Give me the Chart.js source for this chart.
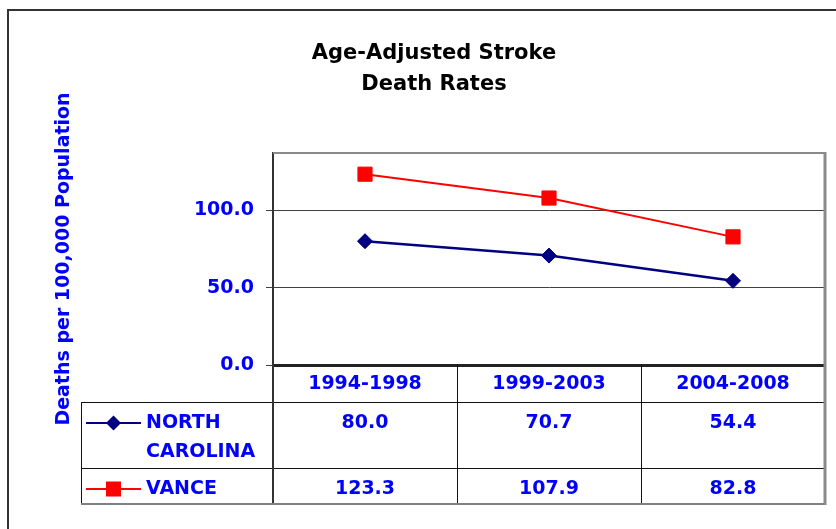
<!DOCTYPE html>
<html>
<head>
<meta charset="utf-8">
<script src="https://cdn.jsdelivr.net/npm/chart.js@4/dist/chart.umd.min.js"></script>
<style>
html,body{margin:0;padding:0;background:#fff;}
#wrap{width:836px;height:529px;position:relative;}
</style>
</head>
<body>
<div id="wrap"><canvas id="c" width="836" height="529"></canvas></div>
<script>
// ---- data ----
const categories = ['1994-1998', '1999-2003', '2004-2008'];
const seriesNames = ['NORTH CAROLINA', 'VANCE'];
const northCarolina = [80.0, 70.7, 54.4];
const vance = [123.3, 107.9, 82.8];
const yTickStep = 50;
const yMax = 137;
const titleLines = ['Age-Adjusted Stroke', 'Death Rates'];
const yTitle = 'Deaths per 100,000 Population';

const FONT = 'DejaVu Sans';
const BLUE = '#0000ff';

function wrapWords(ctx, text, maxW) {
  const words = text.split(' ');
  const lines = [];
  let cur = '';
  for (const w of words) {
    const t = cur ? cur + ' ' + w : w;
    if (cur && ctx.measureText(t).width > maxW) { lines.push(cur); cur = w; }
    else cur = t;
  }
  if (cur) lines.push(cur);
  return lines;
}

const bgPlugin = {
  id: 'bg',
  beforeDraw(chart) {
    const ctx = chart.ctx;
    ctx.save();
    ctx.fillStyle = '#fff';
    ctx.fillRect(0, 0, chart.width, chart.height);
    ctx.strokeStyle = '#333';
    ctx.lineWidth = 2;
    ctx.strokeRect(8, 10, chart.width + 20, chart.height + 20);
    ctx.restore();
  }
};

const tablePlugin = {
  id: 'dataTable',
  afterDraw(chart) {
    const ctx = chart.ctx;
    const ca = chart.chartArea;
    const xs = chart.scales.x;
    const n = categories.length;
    const step = (ca.right - ca.left) / n;
    const tableLeft = 81;
    const rows = [ca.bottom, ca.bottom + 37, ca.bottom + 103, ca.bottom + 139];
    ctx.save();
    // grid lines of table
    ctx.strokeStyle = '#111';
    ctx.lineWidth = 1;
    ctx.beginPath();
    ctx.moveTo(tableLeft, rows[1] + 0.5); ctx.lineTo(ca.right, rows[1] + 0.5);
    ctx.moveTo(tableLeft, rows[2] + 0.5); ctx.lineTo(ca.right, rows[2] + 0.5);
    ctx.moveTo(tableLeft + 0.5, rows[1]); ctx.lineTo(tableLeft + 0.5, rows[3]);
    for (let i = 1; i < n; i++) {
      const x = Math.round(ca.left + step * i) + 0.5;
      ctx.moveTo(x, rows[0]); ctx.lineTo(x, rows[3]);
    }
    ctx.stroke();
    // axis line continues through table
    ctx.strokeStyle = '#333';
    ctx.lineWidth = 2;
    ctx.beginPath();
    ctx.moveTo(ca.left, rows[0]); ctx.lineTo(ca.left, rows[3]);
    ctx.stroke();
    // bottom of table
    ctx.strokeStyle = '#808080';
    ctx.lineWidth = 2;
    ctx.beginPath();
    ctx.moveTo(tableLeft, rows[3]); ctx.lineTo(ca.right, rows[3]);
    ctx.stroke();
    // top and right plot frame (gray)
    ctx.strokeStyle = '#8a8a8a';
    ctx.lineWidth = 2;
    ctx.beginPath();
    ctx.moveTo(ca.left, ca.top); ctx.lineTo(ca.right + 1, ca.top);
    ctx.stroke();
    ctx.lineWidth = 3;
    ctx.beginPath();
    ctx.moveTo(ca.right, ca.top - 1); ctx.lineTo(ca.right, rows[3] + 1);
    ctx.stroke();

    // rows
    ctx.font = 'bold 19px "' + FONT + '"';
    ctx.textBaseline = 'middle';
    chart.data.datasets.forEach((ds, r) => {
      const top = rows[r + 1];
      const yText = top + 21;
      // values
      ctx.fillStyle = BLUE;
      ctx.textAlign = 'center';
      ds.data.forEach((v, i) => {
        ctx.fillText(v.toFixed(1), xs.getPixelForValue(i), yText);
      });
      // legend key line
      ctx.strokeStyle = ds.borderColor;
      ctx.lineWidth = 2;
      ctx.beginPath();
      ctx.moveTo(86, yText); ctx.lineTo(141, yText);
      ctx.stroke();
      // marker
      ctx.fillStyle = ds.borderColor;
      const mx = 113.5;
      ctx.beginPath();
      if (ds.pointStyle === 'rectRot') {
        const h = 7.5;
        ctx.moveTo(mx - h, yText); ctx.lineTo(mx, yText - h);
        ctx.lineTo(mx + h, yText); ctx.lineTo(mx, yText + h);
        ctx.closePath();
      } else {
        ctx.rect(mx - 7.5, yText - 7.5, 15, 15);
      }
      ctx.fill();
      // label
      ctx.fillStyle = BLUE;
      ctx.textAlign = 'left';
      const lines = wrapWords(ctx, ds.label, ca.left - 150);
      lines.forEach((ln, k) => ctx.fillText(ln, 146, yText + k * 29));
    });
    ctx.restore();
  }
};

new Chart(document.getElementById('c'), {
  type: 'line',
  data: {
    labels: categories,
    datasets: [
      {
        label: seriesNames[0], data: northCarolina,
        borderColor: '#000080', backgroundColor: '#000080',
        borderWidth: 2.5, pointStyle: 'rectRot', pointRadius: 7.5,
        pointBorderWidth: 1, pointBorderColor: '#000080', pointBackgroundColor: '#000080',
        tension: 0, fill: false
      },
      {
        label: seriesNames[1], data: vance,
        borderColor: '#ff0000', backgroundColor: '#ff0000',
        borderWidth: 2, pointStyle: 'rect', pointRadius: 10,
        pointBorderWidth: 1, pointBorderColor: '#ff0000', pointBackgroundColor: '#ff0000',
        tension: 0, fill: false
      }
    ]
  },
  options: {
    responsive: false,
    animation: false,
    devicePixelRatio: 1,
    layout: { padding: { left: 41, right: 9, top: 0, bottom: 0 } },
    plugins: {
      legend: { display: false },
      tooltip: { enabled: false },
      title: {
        display: true, text: titleLines, color: '#000',
        font: { family: FONT, size: 21, weight: 'bold', lineHeight: 1.476 },
        padding: { top: 38, bottom: 53 }
      }
    },
    scales: {
      x: {
        offset: true,
        grid: { display: false, drawTicks: false },
        border: { display: true, color: '#222', width: 3 },
        ticks: {
          color: BLUE, padding: 8, maxRotation: 0, autoSkip: false,
          font: { family: FONT, size: 19, weight: 'bold' }
        },
        afterFit(s) { s.height = 164; }
      },
      y: {
        min: 0, max: yMax,
        ticks: {
          stepSize: yTickStep, includeBounds: false, color: BLUE, padding: 12,
          font: { family: FONT, size: 19, weight: 'bold' },
          callback: v => Number(v).toFixed(1)
        },
        grid: { color: '#404040', lineWidth: 1, tickLength: 7, drawTicks: true },
        border: { display: true, color: '#333', width: 2 },
        title: {
          display: true, text: yTitle, color: BLUE,
          font: { family: FONT, size: 19, weight: 'bold' },
          padding: { top: 11.6, bottom: 0 }
        },
        afterFit(s) { s.width = 273 - 41; }
      }
    }
  },
  plugins: [bgPlugin, tablePlugin]
});
</script>
</body>
</html>
